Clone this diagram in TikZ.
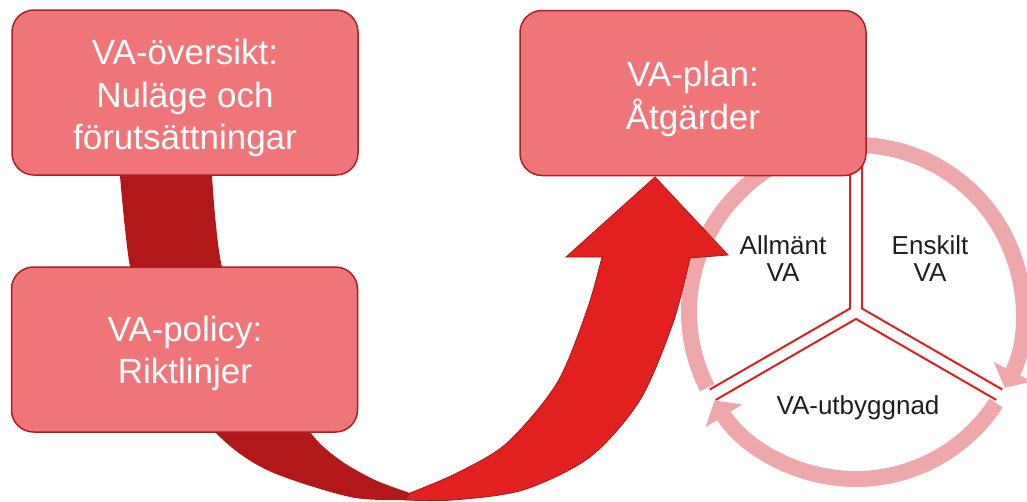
\documentclass[tikz,border=0pt]{standalone}
\usepackage{fontspec}
\setmainfont{Liberation Sans}
\usetikzlibrary{arrows.meta,calc}
\definecolor{boxfill}{RGB}{240,117,121}
\definecolor{boxborder}{RGB}{172,30,36}
\definecolor{darkband}{RGB}{178,24,26}
\definecolor{brightred}{RGB}{226,32,32}
\definecolor{brightborder}{RGB}{170,24,24}
\definecolor{ringpink}{RGB}{238,168,170}
\definecolor{spokered}{RGB}{214,34,34}
\definecolor{textdark}{RGB}{30,30,30}
\begin{document}
\begin{tikzpicture}[x=1pt,y=-1pt,
  box/.style={draw=boxborder,fill=boxfill,line width=1.5pt,rounded corners=22pt,
    minimum width=346pt,minimum height=165pt,inner sep=0pt},
  boxtext/.style={text=white,align=center,inner sep=0pt,
    font=\fontsize{35}{42.5}\selectfont},
  circtext/.style={text=textdark,align=center,inner sep=0pt,
    font=\fontsize{26}{27}\selectfont},
  ringarrow/.style={draw=ringpink,line width=16pt,
    -{Triangle[length=18pt,width=42pt]}},
  spoke/.style={draw=spokered,line width=2pt,line join=miter},
  back/.style={fill=darkband},
  front/.style={fill=brightred,draw=brightborder,line width=0.8pt,line join=miter}]
\useasboundingbox (0,0) rectangle (1027,501);

% cycle ring
\coordinate (C) at (856,312);
\draw[ringarrow] (C) ++(-87:167) arc[start angle=-87,end angle=27,radius=167];
\draw[ringarrow] (C) ++(33:167) arc[start angle=33,end angle=148,radius=167];
\draw[ringarrow] (C) ++(153:167) arc[start angle=153,end angle=268,radius=167];

% sectors
\path (C) ++(210:6.93) coordinate (vA);
\path (C) ++(-30:6.93) coordinate (vE);
\path (C) ++(90:6.93) coordinate (vU);
\draw[spoke] ($(vA)+(150:162)$) -- (vA) -- ($(vA)+(270:162)$);
\draw[spoke] ($(vE)+(270:162)$) -- (vE) -- ($(vE)+(30:162)$);
\draw[spoke] ($(vU)+(30:162)$) -- (vU) -- ($(vU)+(150:162)$);

\node[circtext] (allm) at (783,259) {Allmänt\\VA};
\node[circtext] (ensk) at (930,259) {Enskilt\\VA};
\node[circtext] (utb) at (858,408) {VA-utbyggnad};

% U-turn arrow, back part
\fill[back] (119,150) -- plot[smooth] coordinates {(120,176) (130,267) (152,350) (215,432) (267,470) (350,497) (405,500)}
  -- plot[smooth] coordinates {(410,493) (375,480) (340,460) (310,432) (255,350) (222,267) (212,176)}
  -- (211,150) -- cycle;
% U-turn arrow, front part
\filldraw[front] plot[smooth] coordinates {(410,493) (457,473) (507,443) (557,383) (587,310) (602,257)}
  -- (566,257) -- (655,177) -- (728,255) --
  plot[smooth] coordinates {(690,258) (673,323) (640,400) (590,457) (523,490) (453,500) (405,500)}
  -- cycle;

% boxes
\node[box] (b1) at (185,92.5) {};
\node[box] (b2) at (184.5,349.5) {};
\node[box] (b3) at (693,93) {};
\node[boxtext] (t1) at (185,98.4) {VA-översikt:\\Nuläge och\\förutsättningar};
\node[boxtext] (t2) at (185,353.4) {VA-policy:\\Riktlinjer};
\node[boxtext] (t3) at (693,99) {VA-plan:\\Åtgärder};
\end{tikzpicture}
\end{document}
